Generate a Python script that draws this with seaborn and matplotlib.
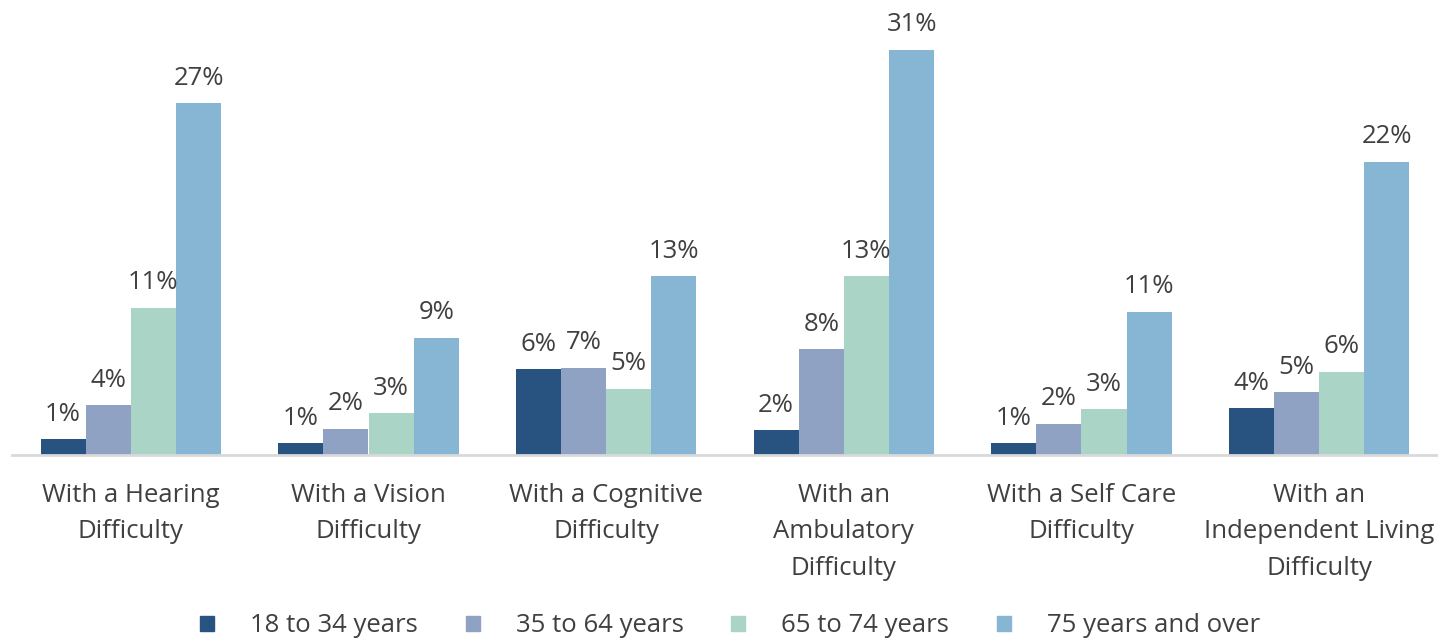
import matplotlib
matplotlib.use("Agg")
import matplotlib.pyplot as plt
import pandas as pd
import seaborn as sns

# data (percent)
categories = ["With a Hearing\nDifficulty", "With a Vision\nDifficulty",
              "With a Cognitive\nDifficulty", "With an\nAmbulatory\nDifficulty",
              "With a Self Care\nDifficulty", "With an\nIndependent Living\nDifficulty"]
age_groups = ["18 to 34 years", "35 to 64 years", "65 to 74 years", "75 years and over"]
age_18_34 = [1.2, 0.9, 6.6, 1.9, 0.9, 3.6]
age_35_64 = [3.8, 2.0, 6.7, 8.1, 2.4, 4.8]
age_65_74 = [11.3, 3.2, 5.1, 13.7, 3.5, 6.4]
age_75_up = [27.0, 9.0, 13.7, 31.1, 11.0, 22.5]
labels_18_34 = ["1%", "1%", "6%", "2%", "1%", "4%"]
labels_35_64 = ["4%", "2%", "7%", "8%", "2%", "5%"]
labels_65_74 = ["11%", "3%", "5%", "13%", "3%", "6%"]
labels_75_up = ["27%", "9%", "13%", "31%", "11%", "22%"]
colors = ["#28527F", "#8FA2C4", "#AAD5C6", "#87B5D4"]

series = [age_18_34, age_35_64, age_65_74, age_75_up]
rows = []
for g, vals in zip(age_groups, series):
    for c, v in zip(categories, vals):
        rows.append({"category": c, "age": g, "value": v})
df = pd.DataFrame(rows)

sns.set_style("white")
plt.rcParams["font.family"] = ["Open Sans", "DejaVu Sans"]
text_color = "#404040"
fs = 18.5

fig = plt.figure(figsize=(14.38, 6.4), dpi=100)
ax = fig.add_axes([12 / 1438, 185 / 640, 1 - 12 / 1438, 443 / 640])

sns.barplot(data=df, x="category", y="value", hue="age", palette=colors,
            width=0.76, saturation=1, linewidth=0, ax=ax, legend=False)

all_labels = [labels_18_34, labels_35_64, labels_65_74, labels_75_up]
for cont, labs in zip(ax.containers, all_labels):
    ax.bar_label(cont, labels=labs, padding=9, fontsize=fs, color=text_color)

ax.set_ylim(0, 34)
ax.set_xlim(-0.5, 5.5)
ax.set_yticks([])
ax.set_xlabel("")
ax.set_ylabel("")
for s in ["top", "right", "left"]:
    ax.spines[s].set_visible(False)
ax.spines["bottom"].set_color("#D9D9D9")
ax.spines["bottom"].set_linewidth(2)
ax.tick_params(axis="x", length=0, pad=20, labelsize=fs, labelcolor=text_color)
for t in ax.get_xticklabels():
    t.set_linespacing(1.6)

handles = [plt.Rectangle((0, 0), 1, 1, color=c) for c in colors]
fig.legend(handles, age_groups, loc="center",
           bbox_to_anchor=(0.5 + 11 / 1438, 14 / 640),
           ncol=4, frameon=False, fontsize=fs, labelcolor=text_color,
           handlelength=0.55, handleheight=0.55, handletextpad=1.4,
           columnspacing=1.85)

fig.savefig("out.png", dpi=100)
